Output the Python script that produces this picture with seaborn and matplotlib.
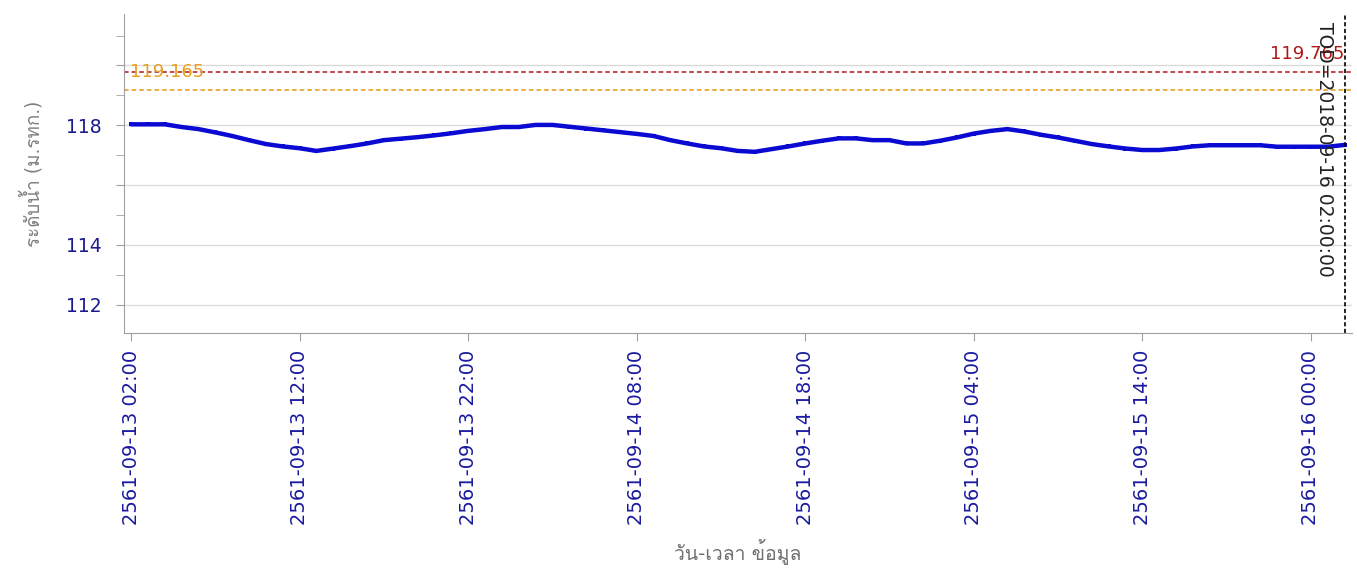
import numpy as np
import pandas as pd
import matplotlib
matplotlib.use("Agg")
import matplotlib.pyplot as plt
import seaborn as sns
from matplotlib import font_manager
from matplotlib.ft2font import FT2Font

sns.set_style("white")


def thai_font():
    # first installed font that has Thai glyphs, if any
    for f in font_manager.fontManager.ttflist:
        try:
            if ord('ร') in FT2Font(f.fname).get_charmap():
                return f.name
        except Exception:
            pass
    return None


th = thai_font()
fams = ['DejaVu Sans'] + ([th] if th else [])
plt.rcParams['font.family'] = fams

# hourly water level, 2018-09-13 02:00 .. 2018-09-16 02:00 (m. MSL)
level = [118.03, 118.03, 118.03, 117.94, 117.87, 117.76, 117.64, 117.50, 117.37, 117.29,
         117.23, 117.14, 117.22, 117.30, 117.39, 117.50, 117.55, 117.60, 117.66, 117.73,
         117.81, 117.87, 117.94, 117.94, 118.01, 118.01, 117.95, 117.89, 117.83, 117.77,
         117.71, 117.64, 117.50, 117.39, 117.29, 117.23, 117.14, 117.11, 117.20, 117.29,
         117.39, 117.48, 117.56, 117.56, 117.50, 117.50, 117.39, 117.39, 117.48, 117.59,
         117.72, 117.81, 117.87, 117.79, 117.68, 117.59, 117.48, 117.37, 117.29, 117.22,
         117.17, 117.17, 117.22, 117.29, 117.33, 117.33, 117.33, 117.33, 117.28, 117.28,
         117.28, 117.28, 117.34]
times = pd.date_range('2018-09-13 02:00', periods=len(level), freq='h')

bank_level = 119.765
warn_level = 119.165
tod = pd.Timestamp('2018-09-16 02:00')

tick_times = pd.date_range('2018-09-13 02:00', periods=8, freq='10h')
tick_labels = ['2561-09-13 02:00', '2561-09-13 12:00', '2561-09-13 22:00', '2561-09-14 08:00',
               '2561-09-14 18:00', '2561-09-15 04:00', '2561-09-15 14:00', '2561-09-16 00:00']
y_major = [112, 114, 116, 118, 120]
y_major_labels = ['112', '114', '', '118', '']
y_minor = [113, 115, 117, 119, 121]

df = pd.DataFrame({'time': times, 'level': level})

fig, ax = plt.subplots(figsize=(13.57, 5.73), dpi=100)
fig.subplots_adjust(left=0.0914, right=0.996, top=0.976, bottom=0.419)

sns.lineplot(data=df, x='time', y='level', color='#0a0ad2', linewidth=3.2,
             marker='s', markersize=3.5, markeredgewidth=0, ax=ax)

ax.axhline(bank_level, color='#b01818', linestyle='--', linewidth=1.1, dashes=(3, 2))
ax.axhline(warn_level, color='#e09a10', linestyle='--', linewidth=1.1, dashes=(3, 2))
ax.axvline(tod, color='black', linestyle='--', linewidth=1.2, dashes=(2.5, 1.5))

x0 = times[0] - pd.Timedelta(minutes=25)
x1 = times[-1] + pd.Timedelta(minutes=25)
ax.set_xlim(x0, x1)
ax.set_ylim(111.05, 121.73)

ax.text(times[0] - pd.Timedelta(minutes=5), bank_level, '%.3f' % warn_level, color='#e8a020',
        fontsize=13, va='center', ha='left')
ax.text(tod, 120.37, '%.3f' % bank_level, color='#b01818', fontsize=13, va='center', ha='right')
ax.text(tod - pd.Timedelta(minutes=72), 121.47, 'TOD=2018-09-16 02:00:00', rotation=270,
        color='#222222', fontsize=13.5, va='top', ha='center')

ax.set_xticks(tick_times)
ax.set_xticklabels(tick_labels, rotation=90, color='#1a1aa0', fontsize=14)
ax.set_yticks(y_major)
ax.set_yticklabels(y_major_labels, color='#1a1a8c', fontsize=13.5)
ax.set_yticks(y_minor, minor=True)

ax.grid(True, axis='y', which='major', color='#dcdcdc', linewidth=1)
ax.grid(False, axis='x')
ax.tick_params(axis='both', which='both', direction='out', length=6, color='#a0a0a0', left=True, bottom=True)
ax.tick_params(axis='x', pad=6)
ax.tick_params(axis='y', pad=10)

for s in ['top', 'right']:
    ax.spines[s].set_visible(False)
for s in ['left', 'bottom']:
    ax.spines[s].set_color('#a0a0a0')

ax.set_xlabel('วัน-เวลา ข้อมูล', color='#707070', fontsize=14, labelpad=10)
ax.set_ylabel('ระดับน้ำ (ม.รทก.)', color='#808080', fontsize=13.5, labelpad=16)

fig.savefig('out.png', dpi=100)
